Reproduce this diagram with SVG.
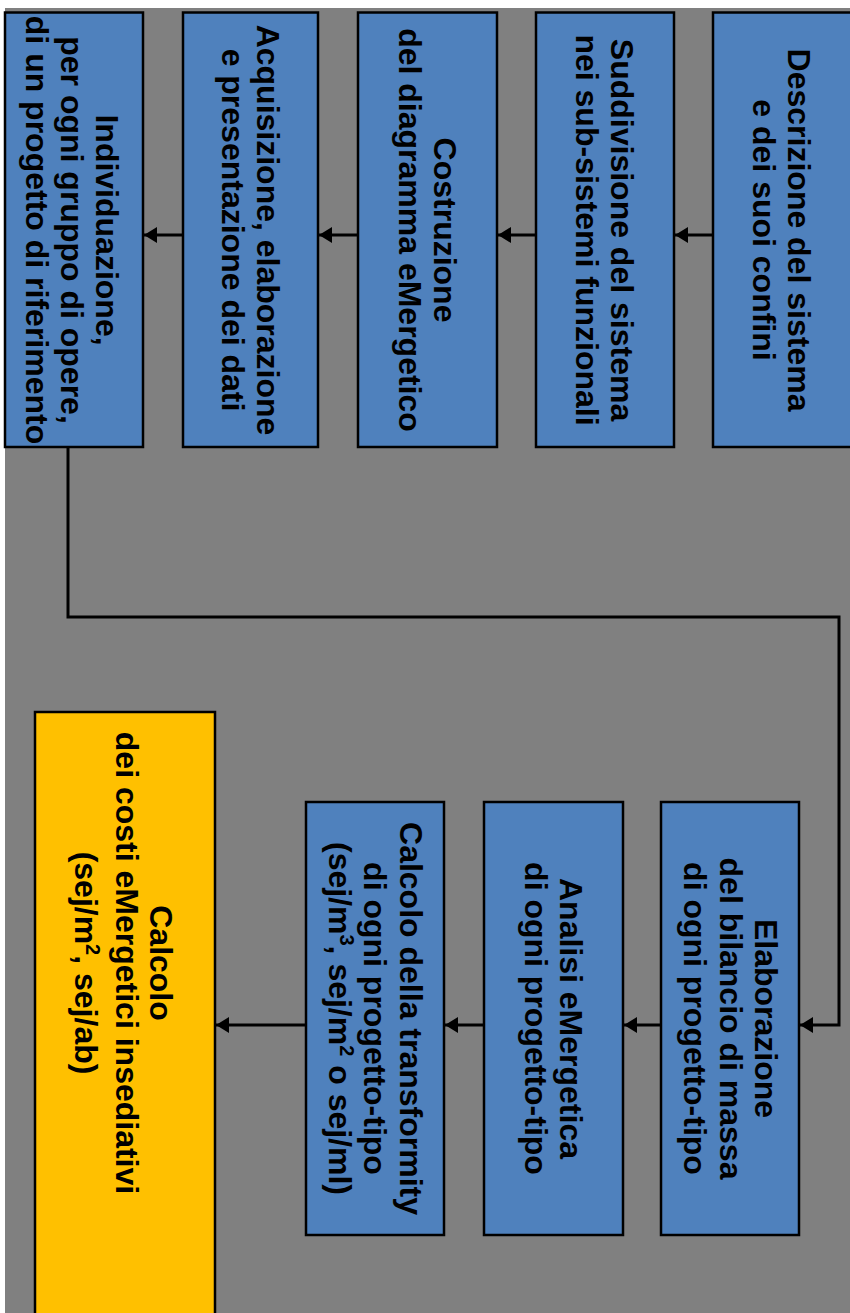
<svg xmlns="http://www.w3.org/2000/svg" width="850" height="1313" viewBox="0 0 850 1313">
<style>
.bg{fill:#808080}
.box{fill:#4F81BD;stroke:#000;stroke-width:2.5}
.ybox{fill:#FFC000;stroke:#000;stroke-width:2.5}
.t{font-family:"Liberation Sans",Arial,sans-serif;font-weight:bold;font-size:32px;fill:#000;text-anchor:middle}
.sup{font-size:20px}
.c{fill:none;stroke:#000;stroke-width:3}
</style>
<defs>
<marker id="ah" markerUnits="userSpaceOnUse" markerWidth="14" markerHeight="18" refX="13" refY="9" orient="auto">
<path d="M0,1 L13,9 L0,17 Z" fill="#000"/>
</marker>
</defs>
<rect width="850" height="1313" fill="#fff"/>
<rect class="bg" x="5" y="8" width="845" height="1305"/>

<g id="connectors">
<line class="c" x1="713" y1="235" x2="675" y2="235" marker-end="url(#ah)"/>
<line class="c" x1="536" y1="235" x2="498" y2="235" marker-end="url(#ah)"/>
<line class="c" x1="358" y1="235" x2="319" y2="235" marker-end="url(#ah)"/>
<line class="c" x1="183" y1="235" x2="144" y2="235" marker-end="url(#ah)"/>
<path class="c" d="M68,447 V617 H839 V1025 H800" marker-end="url(#ah)"/>
<line class="c" x1="661" y1="1025" x2="624" y2="1025" marker-end="url(#ah)"/>
<line class="c" x1="484" y1="1025" x2="445" y2="1025" marker-end="url(#ah)"/>
<line class="c" x1="306" y1="1025" x2="216" y2="1025" marker-end="url(#ah)"/>
</g>

<g id="n1">
<rect class="box" x="713" y="12.5" width="140" height="434.5"/>
<text class="t" transform="translate(0,230) rotate(90)"><tspan x="0" y="-787.5">Descrizione del sistema</tspan><tspan x="0" y="-752.5">e dei suoi confini</tspan></text>
</g>
<g id="n2">
<rect class="box" x="536" y="12.5" width="138" height="434.5"/>
<text class="t" transform="translate(0,230) rotate(90)"><tspan x="0" y="-611">Suddivisione del sistema</tspan><tspan x="0" y="-576">nei sub-sistemi funzionali</tspan></text>
</g>
<g id="n3">
<rect class="box" x="358" y="12.5" width="139" height="434.5"/>
<text class="t" transform="translate(0,230) rotate(90)"><tspan x="0" y="-434">Costruzione</tspan><tspan x="0" y="-399">del diagramma eMergetico</tspan></text>
</g>
<g id="n4">
<rect class="box" x="183" y="12.5" width="135" height="434.5"/>
<text class="t" transform="translate(0,230) rotate(90)"><tspan x="0" y="-256.5">Acquisizione, elaborazione</tspan><tspan x="0" y="-221.5">e presentazione dei dati</tspan></text>
</g>
<g id="n5">
<rect class="box" x="5" y="12.5" width="138" height="434.5"/>
<text class="t" transform="translate(0,230) rotate(90)"><tspan x="0" y="-95.5">Individuazione,</tspan><tspan x="0" y="-60.5">per ogni gruppo di opere,</tspan><tspan x="0" y="-25.5">di un progetto di riferimento</tspan></text>
</g>
<g id="n6">
<rect class="box" x="661" y="802" width="138" height="433"/>
<text class="t" transform="translate(0,1018.5) rotate(90)"><tspan x="0" y="-755">Elaborazione</tspan><tspan x="0" y="-719.5">del bilancio di massa</tspan><tspan x="0" y="-684">di ogni progetto-tipo</tspan></text>
</g>
<g id="n7">
<rect class="box" x="484" y="802" width="139" height="433"/>
<text class="t" transform="translate(0,1018.5) rotate(90)"><tspan x="0" y="-559.5">Analisi eMergetica</tspan><tspan x="0" y="-524.5">di ogni progetto-tipo</tspan></text>
</g>
<g id="n8">
<rect class="box" x="306" y="802" width="138" height="433"/>
<text class="t" transform="translate(0,1018.5) rotate(90)"><tspan x="0" y="-399.5">Calcolo della transformity</tspan><tspan x="0" y="-364">di ogni progetto-tipo</tspan><tspan x="0" y="-329">(sej/m<tspan class="sup" dy="-11">3</tspan><tspan dy="11">, sej/m</tspan><tspan class="sup" dy="-11">2</tspan><tspan dy="11"> o sej/ml)</tspan></tspan></text>
</g>
<g id="n9">
<rect class="ybox" x="35" y="712" width="180" height="620"/>
<text class="t" transform="translate(0,963) rotate(90)"><tspan x="0" y="-150">Calcolo</tspan><tspan x="0" y="-116">dei costi eMergetici insediativi</tspan><tspan x="0" y="-75">(sej/m<tspan class="sup" dy="-11">2</tspan><tspan dy="11">, sej/ab)</tspan></tspan></text>
</g>
</svg>
